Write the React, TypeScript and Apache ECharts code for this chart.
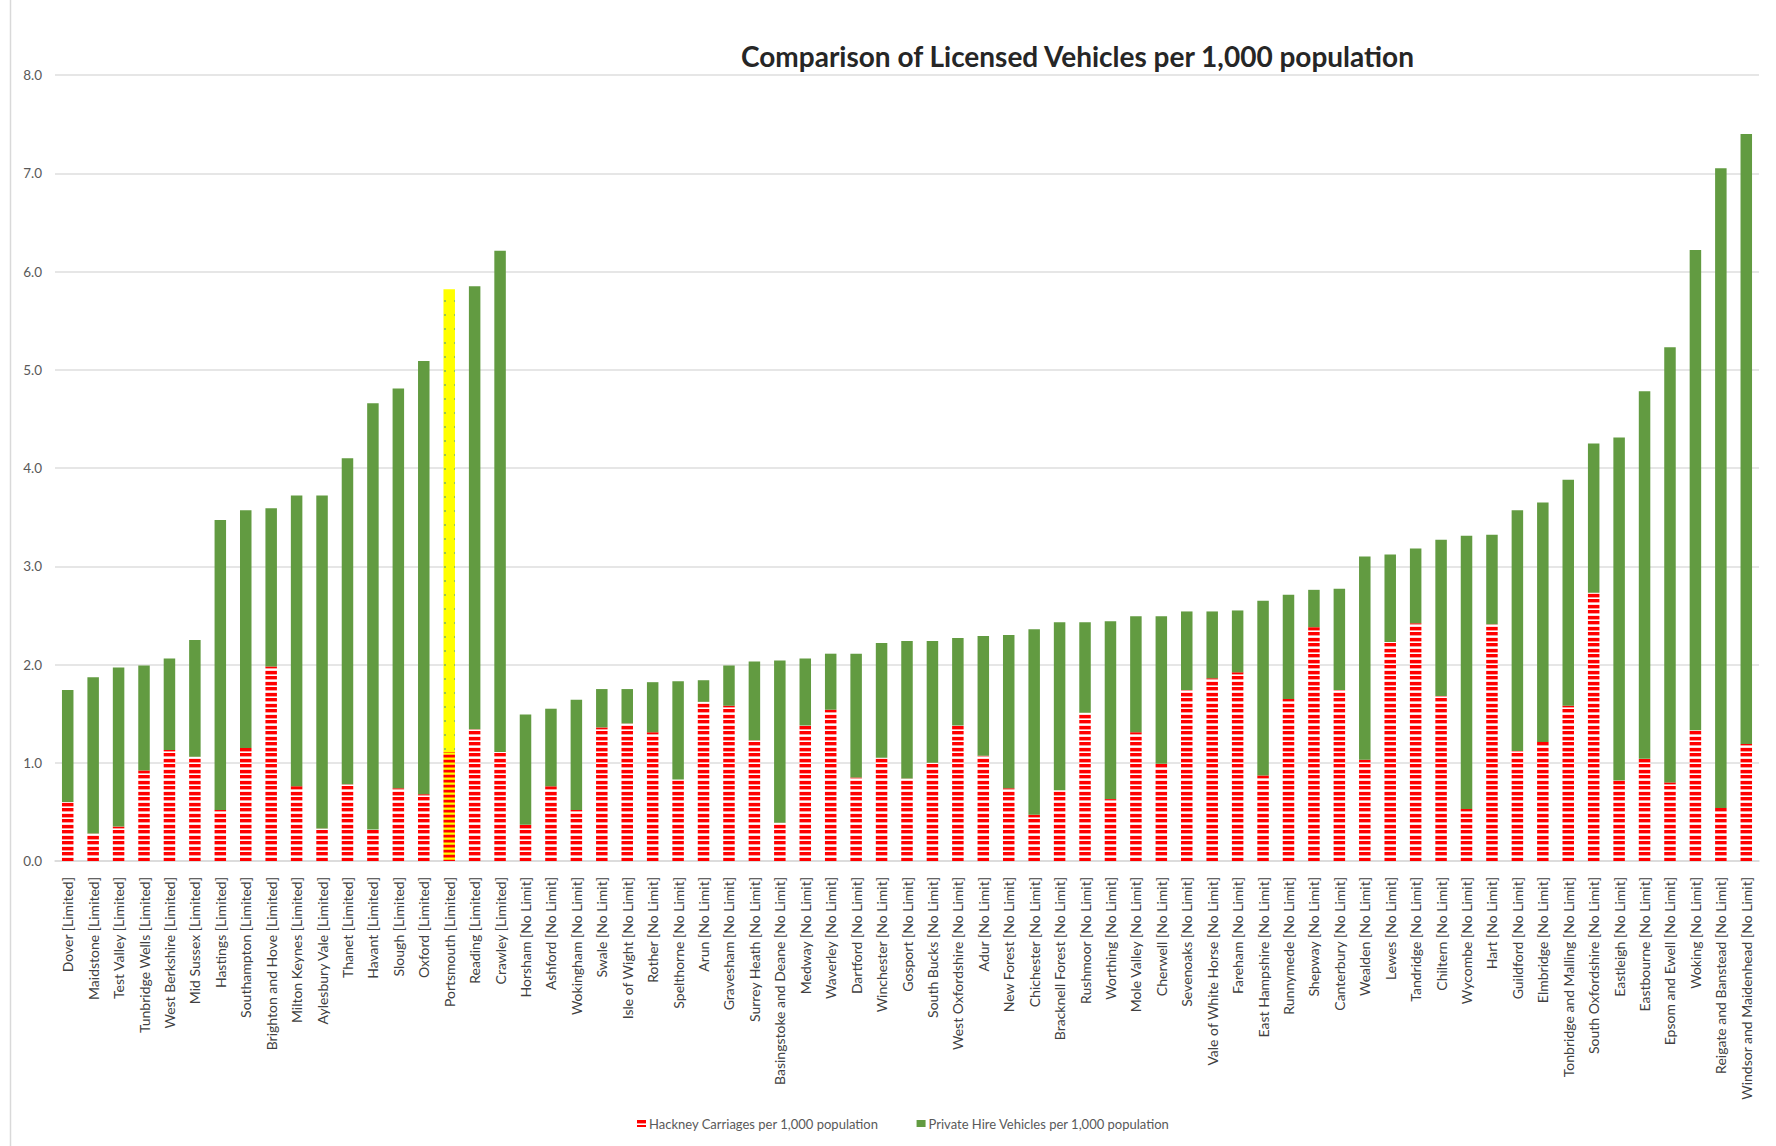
import React, { useEffect, useRef } from "react";
import * as echarts from "echarts";

// Licensing authorities, ordered by limit policy and then by total vehicles per 1,000 population
const categories = [
  "Dover [Limited]", "Maidstone [Limited]", "Test Valley [Limited]", "Tunbridge Wells [Limited]",
  "West Berkshire [Limited]", "Mid Sussex [Limited]", "Hastings [Limited]", "Southampton [Limited]",
  "Brighton and Hove [Limited]", "Milton Keynes [Limited]", "Aylesbury Vale [Limited]", "Thanet [Limited]",
  "Havant [Limited]", "Slough [Limited]", "Oxford [Limited]", "Portsmouth [Limited]",
  "Reading [Limited]", "Crawley [Limited]", "Horsham [No Limit]", "Ashford [No Limit]",
  "Wokingham [No Limit]", "Swale [No Limit]", "Isle of Wight [No Limit]", "Rother [No Limit]",
  "Spelthorne [No Limit]", "Arun [No Limit]", "Gravesham [No Limit]", "Surrey Heath [No Limit]",
  "Basingstoke and Deane [No Limit]", "Medway [No Limit]", "Waverley [No Limit]", "Dartford [No Limit]",
  "Winchester [No Limit]", "Gosport [No Limit]", "South Bucks [No Limit]", "West Oxfordshire [No Limit]",
  "Adur [No Limit]", "New Forest [No Limit]", "Chichester [No Limit]", "Bracknell Forest [No Limit]",
  "Rushmoor [No Limit]", "Worthing [No Limit]", "Mole Valley [No Limit]", "Cherwell [No Limit]",
  "Sevenoaks [No Limit]", "Vale of White Horse [No Limit]", "Fareham [No Limit]", "East Hampshire [No Limit]",
  "Runnymede [No Limit]", "Shepway [No Limit]", "Canterbury [No Limit]", "Wealden [No Limit]",
  "Lewes [No Limit]", "Tandridge [No Limit]", "Chiltern [No Limit]", "Wycombe [No Limit]",
  "Hart [No Limit]", "Guildford [No Limit]", "Elmbridge [No Limit]", "Tonbridge and Malling [No Limit]",
  "South Oxfordshire [No Limit]", "Eastleigh [No Limit]", "Eastbourne [No Limit]", "Epsom and Ewell [No Limit]",
  "Woking [No Limit]", "Reigate and Banstead [No Limit]", "Windsor and Maidenhead [No Limit]",
];

// Hackney carriages per 1,000 population
const hackneyPer1000 = [
  0.60, 0.28, 0.35, 0.92, 1.13, 1.06, 0.52, 1.15, 1.98, 0.76, 0.33, 0.78, 0.32, 0.74, 0.68, 1.11,
  1.34, 1.11, 0.37, 0.76, 0.52, 1.36, 1.40, 1.31, 0.83, 1.62, 1.58, 1.23, 0.39, 1.38, 1.54, 0.85,
  1.05, 0.84, 1.00, 1.38, 1.07, 0.74, 0.47, 0.72, 1.51, 0.63, 1.31, 0.99, 1.74, 1.86, 1.92, 0.87,
  1.65, 2.38, 1.74, 1.03, 2.23, 2.42, 1.68, 0.53, 2.41, 1.12, 1.21, 1.58, 2.73, 0.82, 1.04, 0.80,
  1.33, 0.54, 1.19,
];

// Private hire vehicles per 1,000 population
const privateHirePer1000 = [
  1.14, 1.59, 1.62, 1.07, 0.93, 1.19, 2.95, 2.42, 1.61, 2.96, 3.39, 3.32, 4.34, 4.07, 4.41, 4.71,
  4.51, 5.10, 1.12, 0.79, 1.12, 0.39, 0.35, 0.51, 1.00, 0.22, 0.41, 0.80, 1.65, 0.68, 0.57, 1.26,
  1.17, 1.40, 1.24, 0.89, 1.22, 1.56, 1.89, 1.71, 0.92, 1.81, 1.18, 1.50, 0.80, 0.68, 0.63, 1.78,
  1.06, 0.38, 1.03, 2.07, 0.89, 0.76, 1.59, 2.78, 0.91, 2.45, 2.44, 2.30, 1.52, 3.49, 3.74, 4.43,
  4.89, 6.51, 6.21,
];

const highlightedAuthority = "Portsmouth [Limited]";

const seriesNames = [
  "Hackney Carriages per 1,000 population",
  "Private Hire Vehicles per 1,000 population",
];

const chartTitle = "Comparison of Licensed Vehicles per 1,000 population";

const FONT = "Lato, 'Open Sans', sans-serif";

// Horizontal stripe fill built row by row on a tiny canvas
function stripeFill(rows: string[]) {
  const canvas = document.createElement("canvas");
  canvas.width = 4;
  canvas.height = rows.length;
  const ctx = canvas.getContext("2d")!;
  rows.forEach((c, y) => {
    ctx.fillStyle = c;
    ctx.fillRect(0, y, 4, 1);
  });
  return {
    image: canvas,
    repeat: "repeat" as const,
    imageWidth: 4,
    imageHeight: rows.length,
  };
}

// Yellow fill with sparse green dots
function dottedFill() {
  const w = 10;
  const h = 14;
  const canvas = document.createElement("canvas");
  canvas.width = w;
  canvas.height = h;
  const ctx = canvas.getContext("2d")!;
  ctx.fillStyle = "#ffff00";
  ctx.fillRect(0, 0, w, h);
  ctx.fillStyle = "#9cc84a";
  ctx.fillRect(4, 6, 2, 2);
  return { image: canvas, repeat: "repeat" as const, imageWidth: w, imageHeight: h };
}

export default function App() {
  const ref = useRef<HTMLDivElement>(null);

  useEffect(() => {
    if (!ref.current) return;
    const chart = echarts.init(ref.current, null, { renderer: "svg" });

    const R = "#ff0000";
    const hackneyFill = stripeFill([R, R, R, "#ff9c9c", "#ffffff", R, R, R, "#ff9c9c", "#ffffff", "#ffe0e0"]);
    const hackneyHighlightFill = stripeFill([R, R, "#ff8000", "#ffff00", "#ffc000"]);
    const privateHireColor = "#629b41";
    const privateHireHighlightFill = dottedFill();

    const option: any = {
      animation: false,
      backgroundColor: "#ffffff",
      textStyle: { fontFamily: FONT },
      title: {
        text: chartTitle,
        left: 736,
        top: 37,
        textStyle: {
          fontFamily: FONT,
          fontSize: 28,
          fontWeight: "bold",
          color: "#262626",
        },
      },
      legend: {
        left: 632,
        top: 1112,
        itemWidth: 9,
        itemHeight: 7,
        itemGap: 38,
        icon: "rect",
        textStyle: { fontFamily: FONT, fontSize: 13, color: "#595959", padding: [0, 0, 0, -2] },
        data: seriesNames,
      },
      grid: { left: 55, right: 17, top: 75, bottom: 285, containLabel: false },
      xAxis: {
        type: "category",
        data: categories,
        axisLine: { show: true, lineStyle: { color: "#d9d9d9", width: 1.5 } },
        axisTick: { show: false },
        axisLabel: {
          interval: 0,
          rotate: 90,
          margin: 16,
          fontFamily: FONT,
          fontSize: 14,
          color: "#404040",
        },
      },
      yAxis: {
        type: "value",
        min: 0,
        max: 8,
        interval: 1,
        axisLine: { show: false },
        axisTick: { show: false },
        splitLine: { lineStyle: { color: "#dedede", width: 1.5 } },
        axisLabel: {
          margin: 13,
          fontFamily: FONT,
          fontSize: 13.5,
          color: "#595959",
          formatter: (v: number) => v.toFixed(1),
        },
      },
      series: [
        {
          name: seriesNames[0],
          type: "bar",
          stack: "total",
          barWidth: 11.5,
          itemStyle: { color: hackneyFill },
          data: hackneyPer1000.map((v, i) =>
            categories[i] === highlightedAuthority
              ? { value: v, itemStyle: { color: hackneyHighlightFill } }
              : v
          ),
        },
        {
          name: seriesNames[1],
          type: "bar",
          stack: "total",
          barWidth: 11.5,
          itemStyle: { color: privateHireColor },
          data: privateHirePer1000.map((v, i) =>
            categories[i] === highlightedAuthority
              ? { value: v, itemStyle: { color: privateHireHighlightFill } }
              : v
          ),
        },
      ],
      graphic: [
        {
          type: "rect",
          silent: true,
          shape: { x: 10.5, y: -5, width: 1800, height: 1200 },
          style: { fill: "none", stroke: "#d9d9d9", lineWidth: 1.5 },
        },
      ],
    };

    chart.setOption(option);
    return () => chart.dispose();
  }, []);

  return (
    <div
      ref={ref}
      style={{ position: "fixed", left: 0, top: 0, width: 1776, height: 1146, background: "#ffffff" }}
    />
  );
}
